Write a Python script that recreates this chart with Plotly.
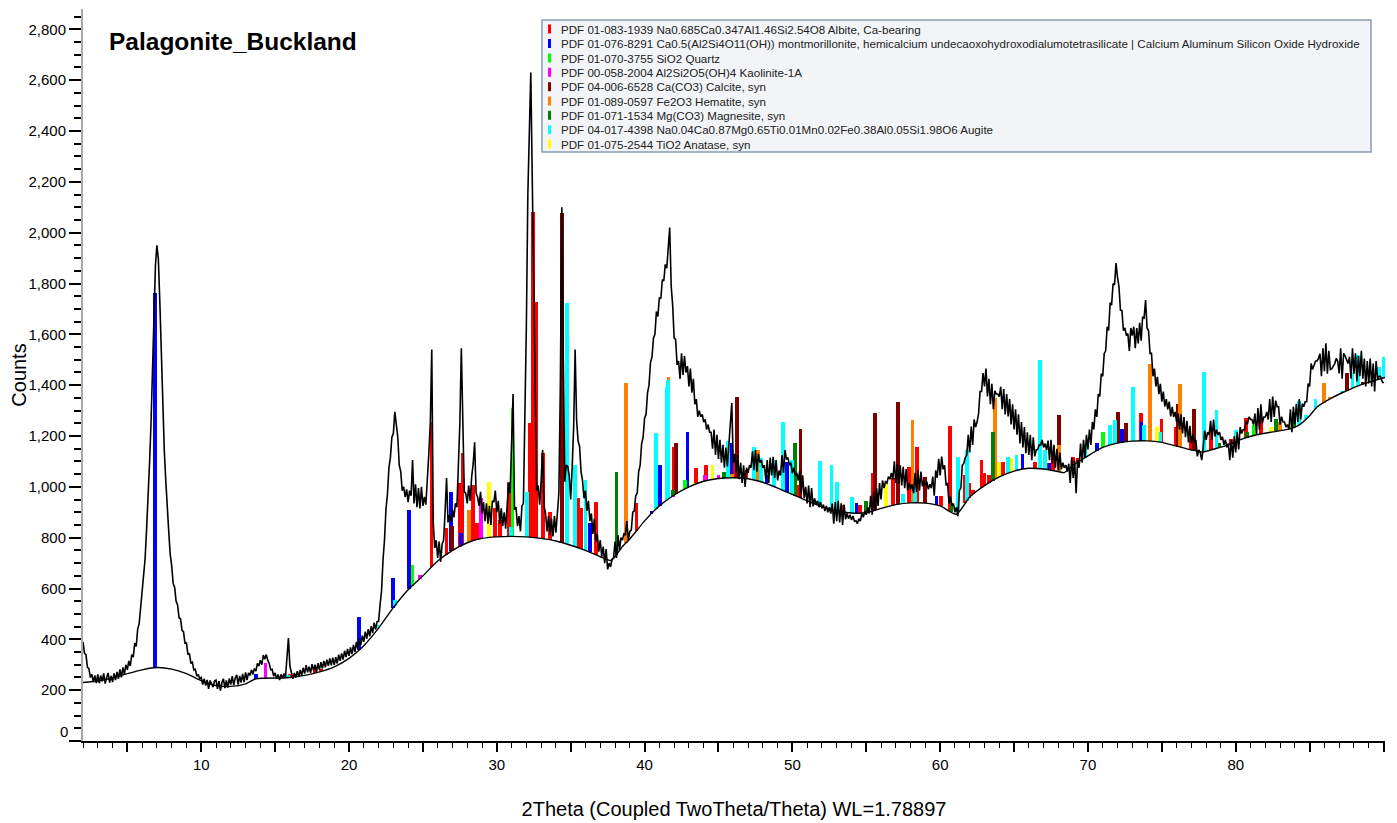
import numpy as np
import plotly.graph_objects as go

# ---------------- text ----------------
title_text = "Palagonite_Buckland"
x_title = "2Theta (Coupled TwoTheta/Theta) WL=1.78897"
y_title = "Counts"

# ---------------- measured pattern (start, step, counts) ----------------
two_theta_start = 2.0
two_theta_step = 0.1
counts = [
    390, 345, 340, 290, 285, 250, 262, 232, 258, 228,            # 2
    262, 228, 258, 235, 266, 226, 250, 268, 230, 256,            # 3
    232, 266, 240, 272, 245, 282, 250, 290, 262, 300,            # 4
    280, 315, 295, 340, 330, 385, 372, 440, 462, 530,            # 5
    575, 660, 715, 830, 935, 1090, 1245, 1460, 1675, 1870,       # 6
    1950, 1895, 1725, 1495, 1315, 1145, 1025, 895, 825, 735,     # 7
    690, 620, 605, 550, 535, 485, 480, 435, 430, 385,            # 8
    385, 340, 345, 305, 310, 280, 282, 255, 262, 245,            # 9
    250, 222, 245, 218, 240, 205, 238, 225, 212, 236,            # 10
    240, 205, 236, 198, 230, 245, 208, 238, 210, 246,            # 11
    222, 255, 220, 248, 260, 222, 256, 230, 264, 232,            # 12
    270, 240, 268, 258, 280, 262, 285, 275, 305, 295,            # 13
    318, 300, 338, 322, 340, 318, 305, 280, 282, 255,            # 14
    268, 245, 262, 240, 262, 248, 265, 250, 320, 405,            # 15
    295, 262, 245, 268, 250, 275, 252, 280, 258, 288,            # 16
    265, 298, 270, 292, 268, 302, 278, 300, 272, 306,            # 17
    280, 310, 285, 315, 290, 320, 296, 325, 298, 328,            # 18
    300, 330, 305, 340, 315, 345, 320, 355, 330, 362,            # 19
    335, 368, 342, 378, 350, 390, 362, 402, 378, 415,            # 20
    390, 430, 402, 440, 412, 452, 425, 466, 438, 470,            # 21
    470, 535, 590, 712, 790, 912, 970, 1075, 1115, 1195,         # 22
    1210, 1295, 1235, 1195, 1085, 1060, 985, 1000, 960, 990,     # 23
    940, 985, 965, 1105, 935, 1010, 920, 995, 915, 1000,         # 24
    925, 960, 930, 1010, 1130, 1250, 1540, 860, 760, 790,        # 25
    720, 785, 705, 775, 790, 900, 1035, 860, 890, 860,           # 26
    910, 880, 935, 920, 1100, 1250, 1545, 1170, 980, 975,        # 27
    935, 1005, 945, 1040, 1090, 1175, 975, 960, 925, 980,        # 28
    895, 940, 865, 935, 855, 925, 850, 945, 940, 985,            # 29
    900, 945, 855, 915, 845, 900, 835, 925, 1015, 975,           # 30
    1160, 1365, 910, 920, 845, 885, 825, 925, 935, 1230,         # 31
    1630, 2150, 2420, 2630, 2210, 1760, 1240, 985, 1005, 930,    # 32
    1025, 1145, 925, 895, 825, 885, 810, 875, 805, 885,          # 33
    820, 905, 975, 1400, 2100, 1500, 1020, 1085, 1080, 1045,     # 34
    950, 1075, 1235, 1540, 1263, 1180, 1160, 1060, 1025, 955,    # 35
    985, 905, 945, 865, 895, 815, 875, 785, 815, 745,            # 36
    790, 725, 765, 700, 755, 675, 700, 685, 715, 720,            # 37
    785, 720, 810, 750, 800, 790, 815, 810, 865, 790,            # 38
    825, 830, 900, 905, 965, 975, 1060, 1085, 1170, 1195,        # 39
    1270, 1285, 1370, 1400, 1490, 1510, 1585, 1600, 1690, 1670,  # 40
    1745, 1740, 1815, 1810, 1875, 1860, 1950, 2020, 1790, 1715,  # 41
    1585, 1580, 1480, 1495, 1425, 1525, 1440, 1515, 1450, 1475,  # 42
    1395, 1465, 1370, 1425, 1325, 1345, 1275, 1300, 1275, 1285,  # 43
    1255, 1265, 1225, 1245, 1215, 1215, 1150, 1225, 1125, 1205,  # 44
    1110, 1185, 1095, 1165, 1075, 1155, 1080, 1175, 1250, 1330,  # 45
    1095, 1130, 1055, 1125, 1030, 1095, 1015, 1085, 1000, 1075,  # 46
    1055, 1085, 1075, 1140, 1065, 1145, 1060, 1130, 1095, 1105,  # 47
    1075, 1085, 1030, 1105, 1015, 1115, 1045, 1118, 1035, 1105,  # 48
    1025, 1064, 1045, 1125, 1055, 1145, 1108, 1115, 1085, 1095,  # 49
    1053, 1075, 1045, 1055, 1025, 1064, 975, 1045, 955, 1000,    # 50
    935, 1005, 920, 995, 923, 955, 930, 945, 920, 940,           # 51
    915, 930, 905, 925, 900, 920, 895, 934, 855, 940,            # 52
    865, 945, 860, 935, 850, 930, 872, 895, 875, 890,            # 53
    870, 885, 865, 867, 855, 875, 865, 895, 880, 905,            # 54
    890, 920, 895, 965, 890, 980, 910, 995, 925, 1015,           # 55
    950, 1025, 995, 1020, 1015, 1040, 1030, 1055, 1029, 1100,    # 56
    1015, 1090, 1010, 1085, 1005, 1079, 995, 1070, 985, 1015,    # 57
    990, 1010, 975, 1055, 980, 1065, 985, 1060, 1002, 1025,      # 58
    1005, 1020, 990, 1010, 995, 1040, 965, 1065, 1035, 1110,     # 59
    1045, 1119, 1069, 1085, 1005, 1015, 935, 961, 925, 934,      # 60
    900, 920, 884, 985, 995, 1085, 1092, 1115, 1125, 1205,       # 61
    1135, 1237, 1165, 1265, 1235, 1255, 1289, 1375, 1375, 1448,  # 62
    1395, 1465, 1356, 1425, 1325, 1405, 1305, 1378, 1365, 1365,  # 63
    1355, 1394, 1305, 1385, 1285, 1365, 1277, 1345, 1245, 1325,  # 64
    1226, 1305, 1205, 1285, 1171, 1255, 1155, 1235, 1132, 1215,  # 65
    1125, 1205, 1105, 1195, 1120, 1145, 1147, 1165, 1165, 1185,  # 66
    1155, 1170, 1145, 1182, 1105, 1185, 1092, 1165, 1075, 1150,  # 67
    1065, 1135, 1069, 1095, 1075, 1085, 1060, 1091, 1015, 1115,  # 68
    1035, 1103, 975, 1105, 1075, 1170, 1095, 1185, 1115, 1205,   # 69
    1147, 1225, 1165, 1255, 1226, 1305, 1275, 1365, 1356, 1445,  # 70
    1435, 1525, 1535, 1630, 1615, 1725, 1715, 1799, 1795, 1880,  # 71
    1825, 1787, 1695, 1693, 1615, 1625, 1595, 1603, 1535, 1625,  # 72
    1595, 1630, 1545, 1625, 1564, 1645, 1575, 1669, 1665, 1735,  # 73
    1625, 1615, 1525, 1525, 1435, 1465, 1395, 1433, 1365, 1405,  # 74
    1335, 1375, 1316, 1345, 1305, 1335, 1277, 1315, 1275, 1295,  # 75
    1255, 1288, 1225, 1285, 1210, 1275, 1195, 1260, 1175, 1240,  # 76
    1171, 1205, 1175, 1185, 1120, 1145, 1135, 1105, 1155, 1221,  # 77
    1185, 1215, 1205, 1260, 1185, 1265, 1198, 1225, 1205, 1215,  # 78
    1185, 1197, 1165, 1185, 1155, 1170, 1105, 1185, 1115, 1200,  # 79
    1135, 1215, 1147, 1235, 1210, 1225, 1225, 1255, 1250, 1275,  # 80
    1265, 1265, 1245, 1288, 1205, 1310, 1225, 1325, 1250, 1275,  # 81
    1275, 1295, 1265, 1345, 1255, 1355, 1275, 1339, 1315, 1315,  # 82
    1245, 1276, 1255, 1255, 1235, 1245, 1226, 1305, 1215, 1315,  # 83
    1245, 1327, 1255, 1345, 1265, 1327, 1315, 1335, 1335, 1406,  # 84
    1395, 1485, 1462, 1475, 1495, 1495, 1505, 1524, 1435, 1545,  # 85
    1455, 1565, 1445, 1535, 1462, 1465, 1475, 1485, 1505, 1495,  # 86
    1446, 1545, 1425, 1525, 1515, 1495, 1485, 1512, 1425, 1545,  # 87
    1445, 1525, 1415, 1515, 1435, 1535, 1425, 1505, 1395, 1495,  # 88
    1407, 1505, 1395, 1485, 1375, 1495, 1423, 1435, 1435, 1415,  # 89
    1408,                                                        # 90
]

# ---------------- fitted background ----------------
bg_two_theta = [2, 3, 4, 5, 6, 7, 8, 9, 10, 11, 12, 13, 13.7, 15.5, 16, 17, 18, 19, 20,
                21, 22, 23, 24, 25, 26, 27, 28, 29, 30, 31, 32, 33, 34, 35, 36, 37, 37.7,
                38, 38.5, 39, 39.5, 40, 41, 42, 43, 44, 45, 46, 47, 48, 49, 50, 51, 52,
                53, 54, 55, 56, 57, 58, 59, 60, 61.1, 62, 63, 64, 65, 66, 67, 68, 68.4,
                69, 70, 71, 72, 73, 74, 75, 76, 77, 77.8, 78.5, 79.5, 80.5, 81.5, 82.5,
                83.5, 84.2, 85, 85.5, 86.5, 87.5, 88.5, 89.5, 90.1]
bg_counts = [230, 236, 248, 265, 280, 289, 283, 265, 238, 218, 215, 225, 245, 248, 250,
             258, 272, 292, 325, 375, 444, 525, 595, 650, 708, 750, 780, 797, 803, 805,
             803, 797, 787, 770, 750, 725, 710, 725, 765, 795, 830, 866, 925, 968, 1000,
             1022, 1033, 1036, 1032, 1018, 995, 970, 945, 922, 905, 897, 898, 915, 930,
             937, 936, 925, 892, 960, 1005, 1039, 1062, 1073, 1070, 1060, 1056, 1085,
             1122, 1155, 1172, 1180, 1181, 1175, 1160, 1145, 1137, 1148, 1165, 1190,
             1206, 1216, 1226, 1240, 1280, 1314, 1350, 1378, 1402, 1420, 1430]

# ---------------- reference phases ----------------
phase_labels = [
    "PDF 01-083-1939 Na0.685Ca0.347Al1.46Si2.54O8 Albite, Ca-bearing",
    "PDF 01-076-8291 Ca0.5(Al2Si4O11(OH)) montmorillonite, hemicalcium undecaoxohydroxodialumotetrasilicate | Calcium Aluminum Silicon Oxide Hydroxide",
    "PDF 01-070-3755 SiO2 Quartz",
    "PDF 00-058-2004 Al2Si2O5(OH)4 Kaolinite-1A",
    "PDF 04-006-6528 Ca(CO3) Calcite, syn",
    "PDF 01-089-0597 Fe2O3 Hematite, syn",
    "PDF 01-071-1534 Mg(CO3) Magnesite, syn",
    "PDF 04-017-4398 Na0.04Ca0.87Mg0.65Ti0.01Mn0.02Fe0.38Al0.05Si1.98O6 Augite",
    "PDF 01-075-2544 TiO2 Anatase, syn",
]
phase_colors = ["#ff0000", "#0000ff", "#00ff00", "#ff00ff", "#800000",
                "#ff8000", "#008000", "#00ffff", "#ffff00"]

albite_pos = [16.0, 17.7, 18.1, 25.58, 26.6, 27.5, 27.68, 28.4, 28.67, 29.86, 30.2, 30.83,
              32.23, 32.45, 32.63, 33.13, 33.6, 34.45, 35.5, 35.69, 36.74, 39.45, 42.0,
              43.5, 44.18, 46.1, 46.9, 50.45, 53.44, 54.57, 55.47, 56.82, 57.9, 58.44,
              60.05, 60.66, 61.67, 61.96, 62.23, 62.8, 63.0, 63.3, 64.26, 66.4, 67.3,
              67.64, 69.0, 69.35, 73.6, 74.98, 75.93, 77.0, 78.3, 79.7, 80.68, 81.7]
albite_top = [262, 287, 283, 1255, 838, 1015, 1133, 1007, 858, 917, 869, 1019,
              1251, 2081, 1727, 1133, 900, 1007, 956, 917, 940, 936, 1157,
              1074, 1086, 1113, 1066, 1007, 928, 928, 1054, 1035, 1078, 1157,
              964, 1239, 1046, 1015, 987, 1105, 1054, 1046, 1098, 1098, 1094,
              1133, 1117, 1113, 1290, 1267, 1235, 1196, 1231, 1188, 1271, 1271]

montm_pos = [6.85, 13.7, 20.67, 22.98, 24.06, 26.9, 27.6, 36.29, 40.47, 41.03, 42.9,
             45.83, 48.25, 49.62, 54.34, 59.75, 65.57, 67.4, 70.6, 72.3, 73.62]
montm_top = [1762, 262, 489, 641, 909, 980, 818, 858, 905, 1086, 1216,
             1172, 1046, 1097, 936, 964, 1129, 1094, 1172, 1227, 1255]

quartz_pos = [24.3, 31.06, 42.72, 58.96, 71.03, 81.2]
quartz_top = [692, 1310, 1027, 1035, 1216, 1243]

kaol_pos = [14.35, 24.8, 28.92, 41.9, 44.07, 45.0]
kaol_top = [307, 653, 956, 935, 1046, 1045]

calcite_pos = [26.95, 34.43, 42.15, 46.26, 50.55, 55.6, 57.15, 59.0, 68.04, 72.05,
               72.57, 76.12, 77.2, 87.5, 88.6]
calcite_top = [846, 2077, 1172, 1353, 1227, 1290, 1334, 1039, 1283, 1294,
               1251, 1326, 1306, 1448, 1412]

hematite_pos = [28.1, 38.73, 41.62, 45.9, 47.68, 58.13, 63.73, 68.04, 74.18, 76.2,
                83.0, 85.96, 86.4]
hematite_top = [909, 1408, 1432, 1050, 1145, 1263, 1349, 1164, 1483, 1404,
                1255, 1408, 1341]

magnesite_pos = [38.1, 41.92, 45.4, 50.2, 55.0, 60.77, 63.55, 78.9, 80.75, 82.7, 83.96]
magnesite_top = [1058, 987, 1058, 1172, 944, 936, 1216, 1172, 1216, 1267, 1294]

augite_pos = [15.87, 22.0, 23.1, 30.95, 32.05, 34.77, 35.3, 36.0, 40.76, 41.48, 41.59,
              45.65, 47.4, 47.86, 48.77, 49.38, 50.0, 51.86, 52.65, 53.0, 54.05, 57.5,
              58.3, 61.2, 61.8, 64.6, 65.17, 66.74, 67.07, 69.8, 71.5, 71.82, 73.06,
              73.8, 74.85, 77.85, 78.7, 80.0, 84.3, 84.75, 85.4, 87.2, 87.9, 88.26,
              89.7, 90.0]
augite_top = [260, 456, 555, 842, 980, 1723, 1086, 1027, 1212, 1393, 1420,
              1180, 1157, 1113, 1105, 1255, 1105, 1101, 1086, 1019, 960, 972,
              1000, 1117, 1145, 1117, 1125, 1499, 1145, 1164, 1243, 1263, 1393,
              1243, 1216, 1452, 1302, 1223, 1337, 1283, 1345, 1373, 1448, 1519,
              1471, 1511]

anatase_pos = [29.46, 43.33, 44.6, 56.32, 64.0, 64.83, 74.7, 82.4, 83.7]
anatase_top = [1019, 1015, 1086, 1015, 1098, 1113, 1235, 1235, 1251]

phase_sticks = [
    (albite_pos, albite_top), (montm_pos, montm_top), (quartz_pos, quartz_top),
    (kaol_pos, kaol_top), (calcite_pos, calcite_top), (hematite_pos, hematite_top),
    (magnesite_pos, magnesite_top), (augite_pos, augite_top), (anatase_pos, anatase_top),
]

# ---------------- layout geometry (screen pixels) ----------------
W, H = 1397, 823
BODY = 8                       # default page margin around the figure
PLOT_L, PLOT_R, PLOT_T, PLOT_B = 83, 1385, 9, 741   # plot area on screen
M_L = PLOT_L - BODY
M_T = PLOT_T - BODY
M_R = W - (PLOT_R - BODY)
M_B = H - (PLOT_B - BODY)
FONT = "Liberation Sans, Arial, sans-serif"


def pxx(px):
    return (px - PLOT_L) / (PLOT_R - PLOT_L)


def pxy(py):
    return (PLOT_B - py) / (PLOT_B - PLOT_T)


two_theta = two_theta_start + two_theta_step * np.arange(len(counts))

fig = go.Figure()

fig.add_trace(go.Scatter(x=two_theta, y=counts, mode="lines",
                         line=dict(color="black", width=1.6), showlegend=False,
                         hoverinfo="skip"))
fig.add_trace(go.Scatter(x=bg_two_theta, y=bg_counts, mode="lines",
                         line=dict(color="black", width=1.4, shape="spline", smoothing=0.6),
                         showlegend=False, hoverinfo="skip"))

for (pos, top), color, label in zip(phase_sticks, phase_colors, phase_labels):
    pos = np.array(pos, dtype=float)
    base = np.interp(pos, bg_two_theta, bg_counts)
    height = np.maximum(np.array(top, dtype=float) - base, 4)
    fig.add_trace(go.Bar(x=pos, y=height, base=base, width=0.26,
                         marker=dict(color=color, line=dict(width=0)),
                         name=label, showlegend=False, hoverinfo="skip"))

# ---------------- legend box (drawn manually) ----------------
shapes = [dict(type="rect", xref="paper", yref="paper",
               x0=pxx(542), x1=pxx(1371), y0=pxy(152), y1=pxy(20),
               fillcolor="#f2f4f7", line=dict(color="#8b9bb0", width=1.5), layer="above")]
annotations = []
row_y = [29, 43.5, 58, 72.3, 86.7, 101, 115.3, 129.7, 144]
for label, color, ry in zip(phase_labels, phase_colors, row_y):
    shapes.append(dict(type="rect", xref="paper", yref="paper",
                       x0=pxx(548), x1=pxx(551), y0=pxy(ry + 4.5), y1=pxy(ry - 4.5),
                       fillcolor=color, line=dict(width=0), layer="above"))
    annotations.append(dict(x=pxx(559), y=pxy(ry), xref="paper", yref="paper",
                            text=label, showarrow=False, xanchor="left", yanchor="middle",
                            font=dict(family=FONT, size=11.6, color="#222222")))

annotations.append(dict(x=pxx(107), y=pxy(42), xref="paper", yref="paper",
                        text="<b>" + title_text + "</b>", showarrow=False,
                        xanchor="left", yanchor="middle",
                        font=dict(family=FONT, size=24.5, color="black")))

# the "0" count label sits a little above the axis corner, as in the reference
annotations.append(dict(x=pxx(70), y=pxy(731), xref="paper", yref="paper",
                        text="0", showarrow=False, xanchor="right", yanchor="middle",
                        font=dict(family=FONT, size=15, color="black")))

x_tickvals = list(range(5, 95, 5))
x_ticktext = [str(v) if (v % 10 == 0 and v < 90) else "" for v in x_tickvals]
y_tickvals = list(range(0, 2900, 200))
y_ticktext = ["" if v == 0 else f"{v:,}" for v in y_tickvals]

fig.update_layout(
    width=W, height=H,
    margin=dict(l=M_L, r=M_R, t=M_T, b=M_B, autoexpand=False),
    paper_bgcolor="white", plot_bgcolor="white",
    barmode="overlay", bargap=0,
    font=dict(family=FONT, color="black"),
    shapes=shapes, annotations=annotations,
    showlegend=False,
)
fig.update_xaxes(
    range=[2.0, 90.1], showgrid=False, zeroline=False,
    showline=True, linecolor="black", linewidth=1.5,
    tickmode="array", tickvals=x_tickvals, ticktext=x_ticktext,
    ticks="outside", ticklen=9, tickwidth=1.5, tickcolor="black",
    minor=dict(dtick=1, tick0=0, ticks="outside", ticklen=5, tickwidth=1.2, tickcolor="black"),
    tickfont=dict(family=FONT, size=15, color="black"),
    title=dict(text=x_title, font=dict(family=FONT, size=20, color="black"), standoff=30),
)
fig.update_yaxes(
    range=[0, 2880], showgrid=False, zeroline=False,
    showline=True, linecolor="#a8a8a8", linewidth=2,
    tickmode="array", tickvals=y_tickvals, ticktext=y_ticktext,
    ticks="outside", ticklen=12, tickwidth=2, tickcolor="black",
    minor=dict(dtick=50, tick0=0, ticks="outside", ticklen=7, tickwidth=2, tickcolor="black"),
    tickfont=dict(family=FONT, size=15, color="black"),
    title=dict(text=y_title, font=dict(family=FONT, size=20, color="black"), standoff=6),
)

fig.write_html("out.html")
